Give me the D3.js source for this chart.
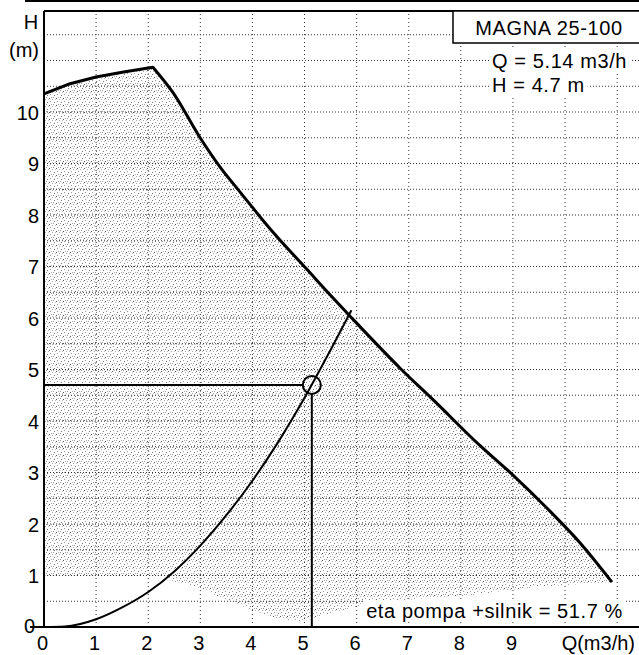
<!doctype html>
<html lang="en">
  <head>
    <meta charset="utf-8">
    <title>MAGNA 25-100</title>
    <script src="https://d3js.org/d3.v7.min.js"></script>
    <style>
      body { margin: 0; background: #fff; }
      svg text { font-family: 'Liberation Sans', Arial, sans-serif; fill: #000; }
    </style>
  </head>
  <body>
    <div id="root"></div>
  <script>

    // data
    const pumpQ = [0, 0.5, 1.0, 1.5, 2.09, 2.48, 2.99, 3.38, 3.76, 4.4, 5.05, 5.49, 5.87, 6.83, 7.5, 8.37, 9.0, 9.65, 10.29, 10.9];
    const pumpH = [10.35, 10.55, 10.68, 10.77, 10.87, 10.37, 9.51, 8.93, 8.45, 7.66, 6.94, 6.45, 6.04, 5.03, 4.38, 3.52, 2.95, 2.31, 1.63, 0.87];
    const lowQ = [0, 2.3, 2.42, 2.93, 3.38, 4.0, 4.47, 4.97, 5.3, 6.2, 7.2, 8.2, 9.46, 10.9];
    const lowH = [1.0, 1.0, 0.91, 0.78, 0.58, 0.33, 0.17, 0.1, 0.22, 0.45, 0.55, 0.62, 0.78, 0.87];
    const sysQ = [0, 0.4, 1.0, 1.5, 2.0, 2.5, 3.0, 3.5, 4.0, 4.5, 5.0, 5.5, 5.9];
    const sysH = [0, 0.01, 0.15, 0.38, 0.68, 1.08, 1.58, 2.17, 2.84, 3.6, 4.45, 5.38, 6.15];
    const opQ = 5.14, opH = 4.7;
    const xTicks = [0, 1, 2, 3, 4, 5, 6, 7, 8, 9];
    const yTicks = [0, 1, 2, 3, 4, 5, 6, 7, 8, 9, 10];
    const xGrid = [1, 2, 3, 4, 5, 6, 7, 8, 9, 10, 11];
    const yGrid = d3.range(1, 24).map(d => d / 2);

    const width = 639, height = 655;
    const x = d3.scaleLinear([0, 11.4], [44, 638]);
    const y = d3.scaleLinear([0, 12], [627, 9]);

    const svg = d3.select("#root").append("svg")
      .attr("width", width).attr("height", height);

    // stipple texture
    const pat = svg.append("defs").append("pattern")
      .attr("id", "stip").attr("patternUnits", "userSpaceOnUse")
      .attr("width", 7).attr("height", 7);
    [[0,0,"#555"],[3,1,"#aaa"],[1,3,"#999"],[5,4,"#777"],[6,1,"#bbb"],[2,6,"#aaa"],[4,6,"#999"]].forEach(([px, py, c]) => {
      pat.append("rect").attr("x", px).attr("y", py).attr("width", 1).attr("height", 1).attr("fill", c);
    });

    // pump curve: rising part straight, falling part smoothed
    const peak = pumpH.indexOf(d3.max(pumpH));
    const pts = pumpQ.map((q, i) => [q, pumpH[i]]);
    const rise = pts.slice(0, peak + 1), fall = pts.slice(peak);
    const lin = d3.line().x(d => x(d[0])).y(d => y(d[1]));
    const mono = d3.line().x(d => x(d[0])).y(d => y(d[1])).curve(d3.curveMonotoneX);
    const pumpPath = lin(rise) + mono(fall).replace(/^M/, "L");

    // shaded operating area
    const lower = lowQ.map((q, i) => [q, lowH[i]]).reverse();
    svg.append("path")
      .attr("d", pumpPath + lin(lower).replace(/^M/, "L") + "Z")
      .attr("fill", "url(#stip)");

    // dotted grid
    svg.append("g").selectAll("line").data(xGrid).join("line")
      .attr("x1", d => x(d)).attr("x2", d => x(d))
      .attr("y1", y(0)).attr("y2", y(12))
      .attr("stroke", "#333").attr("stroke-dasharray", "1,3");
    svg.append("g").selectAll("line").data(yGrid).join("line")
      .attr("x1", x(0)).attr("x2", width)
      .attr("y1", d => y(d)).attr("y2", d => y(d))
      .attr("stroke", "#333").attr("stroke-dasharray", "1,2");

    // frame
    svg.append("line").attr("x1", x(0)).attr("x2", x(0)).attr("y1", 11).attr("y2", y(0))
      .attr("stroke", "#000").attr("stroke-width", 2);
    svg.append("line").attr("x1", 30).attr("x2", width).attr("y1", y(0)).attr("y2", y(0))
      .attr("stroke", "#000").attr("stroke-width", 2);
    svg.append("line").attr("x1", x(0)).attr("x2", width).attr("y1", 11).attr("y2", 11)
      .attr("stroke", "#000").attr("stroke-width", 2);
    svg.append("line").attr("x1", 25).attr("x2", width).attr("y1", 1).attr("y2", 1)
      .attr("stroke", "#000").attr("stroke-width", 2);

    // system curve
    svg.append("path")
      .datum(sysQ.map((q, i) => [q, sysH[i]]))
      .attr("d", mono)
      .attr("fill", "none").attr("stroke", "#000").attr("stroke-width", 2);

    // pump curve
    svg.append("path")
      .attr("d", pumpPath)
      .attr("fill", "none").attr("stroke", "#000").attr("stroke-width", 3)
      .attr("stroke-linejoin", "round");

    // operating point
    const r = 9;
    svg.append("line").attr("x1", x(0)).attr("x2", x(opQ) - r)
      .attr("y1", y(opH)).attr("y2", y(opH))
      .attr("stroke", "#000").attr("stroke-width", 2);
    svg.append("line").attr("x1", x(opQ)).attr("x2", x(opQ))
      .attr("y1", y(opH) + r).attr("y2", y(0))
      .attr("stroke", "#000").attr("stroke-width", 2);
    svg.append("circle").attr("cx", x(opQ)).attr("cy", y(opH)).attr("r", r)
      .attr("fill", "none").attr("stroke", "#000").attr("stroke-width", 2);

    // axes labels
    const yAxis = svg.append("g").attr("transform", "translate(39,0)")
      .call(d3.axisLeft(y).tickValues(yTicks).tickSize(0).tickPadding(0).tickFormat(d3.format("d")));
    yAxis.select(".domain").remove();
    yAxis.selectAll("text").attr("font-size", 20).attr("dy", "0.35em").attr("font-family", null);
    yAxis.selectAll(".tick").filter(d => d === 0).select("text").attr("x", -4).attr("dy", "0.25em");

    const xAxis = svg.append("g").attr("transform", `translate(-2,${y(0) + 9})`)
      .call(d3.axisBottom(x).tickValues(xTicks).tickSize(0).tickPadding(0).tickFormat(d3.format("d")));
    xAxis.select(".domain").remove();
    xAxis.selectAll("text").attr("font-size", 20).attr("dy", "0.71em").attr("font-family", null);

    svg.append("text").attr("x", 31).attr("y", 29).attr("text-anchor", "middle")
      .attr("font-size", 20).text("H");
    svg.append("text").attr("x", 24).attr("y", 57).attr("text-anchor", "middle")
      .attr("font-size", 20).text("(m)");
    svg.append("text").attr("x", 635).attr("y", 650).attr("text-anchor", "end")
      .attr("font-size", 20).text("Q(m3/h)");

    // texts with white backing
    function label(tx, ty, s, anchor) {
      const t = svg.append("text").attr("x", tx).attr("y", ty)
        .attr("text-anchor", anchor).attr("font-size", 20).attr("letter-spacing", 0.6).text(s);
      const b = t.node().getBBox();
      svg.insert("rect", () => t.node())
        .attr("x", b.x - 3).attr("y", b.y).attr("width", b.width + 6).attr("height", b.height)
        .attr("fill", "#fff");
      return t;
    }

    svg.append("rect").attr("x", 453).attr("y", 11).attr("width", 200).attr("height", 32)
      .attr("fill", "#fff").attr("stroke", "#000").attr("stroke-width", 1.5);
    svg.append("text").attr("x", 549).attr("y", 35).attr("text-anchor", "middle")
      .attr("font-size", 20).attr("letter-spacing", 0.6).text("MAGNA 25-100");
    label(492, 68, "Q = 5.14 m3/h", "start");
    label(492, 92, "H = 4.7 m", "start");
    label(623, 618, "eta pompa +silnik = 51.7 %", "end");

  </script>
  </body>
</html>
